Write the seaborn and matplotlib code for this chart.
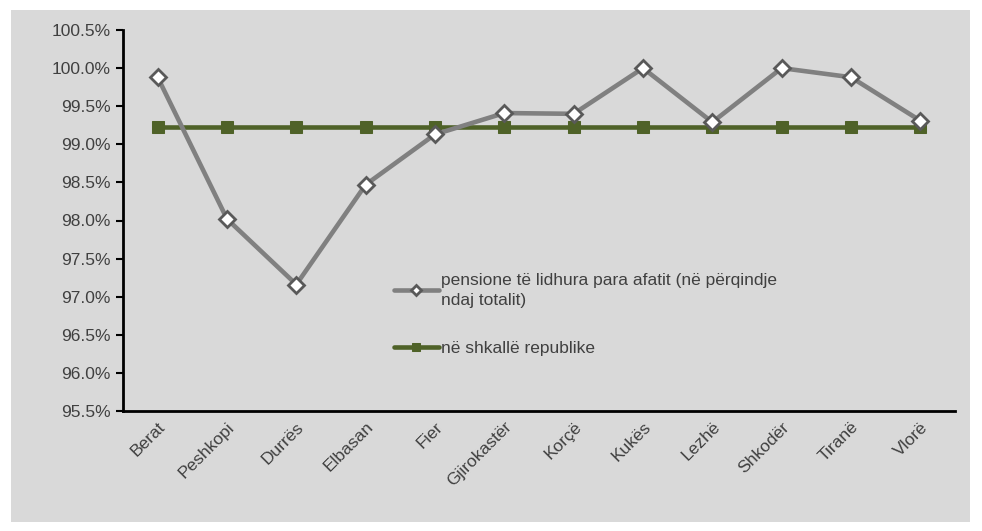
import numpy as np
import pandas as pd
import matplotlib
matplotlib.use("Agg")
import matplotlib.pyplot as plt
import seaborn as sns
from matplotlib.patches import Rectangle
from matplotlib.ticker import FuncFormatter, FixedLocator

# data
cities = ["Berat", "Peshkopi", "Durrës", "Elbasan", "Fier", "Gjirokastër",
          "Korçë", "Kukës", "Lezhë", "Shkodër", "Tiranë", "Vlorë"]
early_pct = [99.88, 98.02, 97.16, 98.47, 99.13, 99.41,
             99.40, 100.0, 99.29, 100.0, 99.88, 99.31]
republic_pct = [99.23] * 12

label_early = "pensione të lidhura para afatit (në përqindje\nndaj totalit)"
label_rep = "në shkallë republike"

sns.set_style("white")
plt.rcParams["font.family"] = ["Liberation Sans", "DejaVu Sans"]

bg = "#D9D9D9"
fs = 12.5
fig = plt.figure(figsize=(9.82, 5.31), dpi=100)
fig.patch.set_facecolor("white")
fig.add_artist(Rectangle((11 / 982, 1 - 522 / 531), (970 - 11) / 982, (522 - 10) / 531,
                         transform=fig.transFigure, facecolor=bg, edgecolor="none", zorder=0))
ax = fig.add_axes([123 / 982, 1 - 411 / 531, (955 - 123) / 982, (411 - 30) / 531])
ax.set_facecolor(bg)

x = np.arange(len(cities))
df = pd.DataFrame({"x": x, "early": early_pct, "rep": republic_pct})

sns.lineplot(data=df, x="x", y="early", ax=ax, color="#808080", linewidth=3.3,
             marker="D", markersize=8.5, markerfacecolor="white",
             markeredgecolor="#595959", markeredgewidth=2, label=label_early, zorder=3)
sns.lineplot(data=df, x="x", y="rep", ax=ax, color="#4F6228", linewidth=3.3,
             marker="s", markersize=8.5, markeredgecolor="#4F6228",
             label=label_rep, zorder=2)

ax.set_xlim(-0.5, len(cities) - 0.5)
ax.set_ylim(95.5, 100.5)
ax.set_yticks(np.arange(95.5, 100.51, 0.5))
ax.yaxis.set_major_formatter(FuncFormatter(lambda v, p: f"{v:.1f}%"))
ax.set_xticks(x)
ax.set_xticklabels(cities, rotation=45, ha="right", rotation_mode="anchor")
ax.xaxis.set_minor_locator(FixedLocator(np.arange(-0.5, len(cities), 1.0)))
ax.tick_params(axis="x", which="major", length=0, pad=6, labelsize=fs, labelcolor="#404040")
ax.tick_params(axis="x", which="minor", length=5, width=1.5, color="black", direction="out")
ax.tick_params(axis="y", which="major", length=5, width=1.5, color="black", direction="out",
               labelsize=fs, labelcolor="#404040", left=True, pad=4)
ax.set_xlabel("")
ax.set_ylabel("")

for s in ["top", "right"]:
    ax.spines[s].set_visible(False)
for s in ["left", "bottom"]:
    ax.spines[s].set_color("black")
    ax.spines[s].set_linewidth(2)

leg = ax.legend(loc="upper left", bbox_to_anchor=((378 - 123) / 832, (411 - 257) / 381),
                frameon=False, fontsize=fs, handlelength=2.6, handletextpad=0.15,
                labelspacing=1.9, markerscale=0.6, labelcolor="#404040")
leg.get_texts()[0].set_linespacing(1.45)

fig.savefig("out.png", dpi=100, facecolor="white")
